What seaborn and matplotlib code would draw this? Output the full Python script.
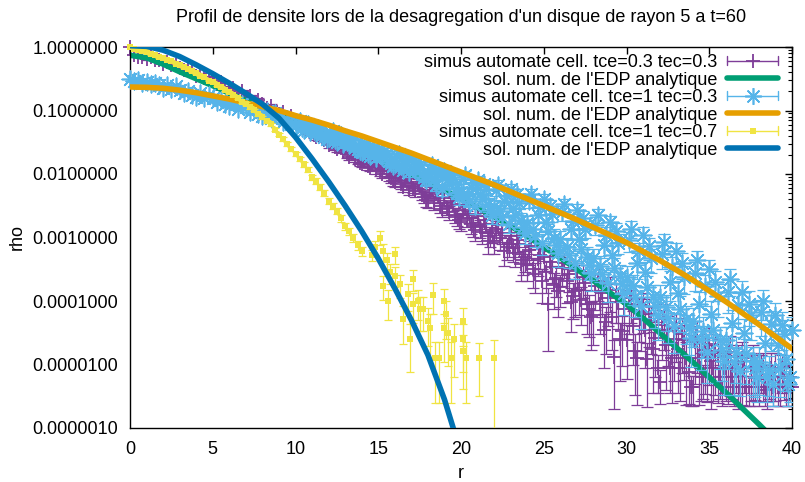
import numpy as np
import seaborn as sns
import matplotlib.pyplot as plt
from matplotlib.lines import Line2D
from matplotlib.legend_handler import HandlerBase
from matplotlib.ticker import FixedLocator, LogLocator, FuncFormatter, NullFormatter

# ---- data (log10 of rho) ----
r_sim = np.linspace(0, 40, 161)          # radial positions of the automaton samples
r_sim_b = np.linspace(10.125, 39.875, 120)  # in-between radii (outer region, denser sampling)

purple_log10 = [
    0.0, -0.12, -0.15, -0.16,  -0.19, -0.16, -0.21, -0.2,  -0.26, -0.24, -0.29, -0.28,
    -0.33, -0.36, -0.34, -0.39,  -0.45, -0.42, -0.49, -0.47,  -0.53, -0.58, -0.55, -0.63,
    -0.68, -0.65, -0.73, -0.7,  -0.8, -0.77, -0.86, -0.83,  -0.9, -0.96, -0.93, -1.0,
    -1.06, -1.03, -1.12, -1.09,  -1.22, -1.16, -1.27, -1.3,  -1.33, -1.42, -1.36, -1.46,
    -1.55, -1.47, -1.6, -1.52,  -1.6, -1.73, -1.66, -1.78,  -1.84, -1.74, -1.9, -1.8,
    -1.87, -2.0, -1.93, -2.07,  -2.13, -1.98, -2.2, -2.05,  -2.12, -2.27, -2.18, -2.36,
    -2.42, -2.25, -2.31, -2.5,  -2.38, -2.6, -2.47, -2.67,  -2.75, -2.52, -2.63, -2.82,
    -2.66, -2.92, -2.78, -2.97,  -3.07, -2.8, -2.93, -3.15,  -2.98, -3.25, -3.1, -3.36,
    -3.42, -3.14, -3.58, -3.27,  -3.3, -4.05, -3.46, -3.63,  -3.78, -3.4, -3.58, -3.92,
    -3.53, -3.98, -3.72, -4.12,  -4.22, -3.68, -3.87, -4.33,  -3.82, -4.88, -4.02, -4.47,
    -4.62, -3.95, -4.78, -4.18,  -4.08, -4.92, -4.32, -4.58,  -5.28, -4.28, -4.47, -4.9,
    -4.43, -5.05, -4.62, -5.12,  -5.35, -4.55, -5.05, -4.77,  -4.68, -5.05, -4.86, -5.35,
    -5.05, -4.8, -5.35, -4.95,  -4.9, -5.35, -5.05, -5.22,  -5.35, -5.05, -5.4, -5.05,
    -5.05, -5.35, -5.22, -5.35,  -5.35,
]
purple_relerr = [
    .02, .02, .02, .02,  .02, .02, .02, .02,  .03, .03, .03, .03,  .03, .03, .03, .03,
    .03, .03, .04, .04,  .04, .04, .04, .04,  .04, .04, .05, .05,  .05, .05, .05, .05,
    .05, .06, .06, .06,  .06, .06, .07, .07,  .07, .07, .08, .08,  .08, .09, .08, .09,
    .1, .09, .1, .1,  .1, .11, .11, .12,  .12, .11, .13, .12,  .13, .14, .13, .15,
    .16, .14, .17, .15,  .16, .19, .17, .2,  .22, .19, .2, .24,  .21, .26, .23, .28,
    .3, .24, .27, .32,  .27, .34, .3, .35,  .36, .3, .33, .38,  .34, .4, .37, .42,
    .46, .38, .5, .41,  .4, .82, .45, .5,  .52, .43, .48, .57,  .47, .6, .53, .64,
    .66, .52, .58, .69,  .56, .85, .62, .72,  .75, .6, .8, .66,  .63, .82, .69, .76,
    .55, .68, .72, .8,  .71, .7, .76, .68,  .5, .74, .7, .8,  .77, .7, .82, .5,
    .7, .8, .5, .82,  .82, .5, .7, .55,  .5, .7, .5, .7,  .7, .5, .55, .5,  .5,
]
purple_b_log10 = [
    -1.19, -1.25, -1.33, -1.24,  -1.39, -1.3, -1.44, -1.49,  -1.5, -1.58, -1.44, -1.63,
    -1.69, -1.63, -1.76, -1.82,  -1.77, -1.87, -1.82, -1.94,  -1.96, -1.9, -2.04, -2.11,
    -2.02, -2.16, -2.09, -2.25,  -2.22, -2.15, -2.31, -2.41,  -2.28, -2.46, -2.36, -2.55,
    -2.53, -2.43, -2.64, -2.72,  -2.57, -2.69, -2.79, -2.88,  -2.84, -2.72, -3.05, -2.9,
    -2.86, -3.0, -3.22, -3.1,  -3.17, -3.04, -3.42, -3.3,  -3.2, -3.5, -3.34, -3.68,
    -3.55, -3.38, -3.75, -3.85,  -3.48, -3.68, -4.02, -3.85,  -3.82, -3.62, -4.05, -4.25,
    -3.76, -4.05, -4.45, -3.95,  -4.25, -3.92, -4.6, -4.12,  -4.05, -4.4, -4.9, -4.28,
    -4.45, -4.2, -4.75, -5.05,  -4.38, -4.7, -5.05, -4.6,  -4.75, -4.52, -4.9, -5.35,
    -4.65, -4.9, -5.2, -4.85,  -4.95, -4.78, -5.2, -5.05,  -4.88, -5.2, -5.05, -5.35,
    -5.05, -5.35, -4.95, -5.05,  -5.05, -5.35, -5.2, -5.35,  -5.35, -5.05, -5.35, -5.2,
]
purple_b_relerr = [
    .07, .07, .08, .07,  .08, .07, .09, .09,  .09, .1, .08, .1,  .11, .1, .12, .12,
    .12, .13, .12, .14,  .14, .13, .15, .16,  .15, .17, .16, .18,  .18, .16, .2, .21,
    .19, .23, .21, .25,  .24, .22, .27, .29,  .26, .29, .31, .34,  .32, .29, .38, .34,
    .33, .37, .42, .39,  .4, .36, .46, .43,  .41, .5, .45, .55,  .52, .46, .58, .6,
    .48, .55, .66, .6,  .6, .53, .66, .7,  .58, .66, .75, .64,  .7, .62, .78, .67,
    .66, .75, .82, .69,  .75, .7, .8, .6,  .72, .8, .6, .78,  .8, .76, .82, .5,
    .78, .82, .55, .82,  .82, .8, .55, .6,  .82, .55, .6, .5,  .6, .5, .8, .6,
    .6, .5, .55, .5,  .5, .6, .5, .55,
]

lblue_log10 = [
    -0.5, -0.54, -0.52, -0.56,  -0.55, -0.59, -0.57, -0.6,  -0.64, -0.6, -0.66, -0.62,
    -0.67, -0.72, -0.69, -0.75,  -0.78, -0.72, -0.8, -0.75,  -0.8, -0.87, -0.83, -0.9,
    -0.93, -0.86, -0.97, -0.9,  -0.94, -1.02, -0.97, -1.05,  -1.08, -1.0, -1.12, -1.04,
    -1.1, -1.18, -1.13, -1.22,  -1.25, -1.16, -1.3, -1.21,  -1.26, -1.36, -1.3, -1.41,
    -1.44, -1.33, -1.5, -1.39,  -1.42, -1.55, -1.47, -1.6,  -1.65, -1.52, -1.71, -1.58,
    -1.6, -1.74, -1.67, -1.83,  -1.84, -1.69, -1.93, -1.75,  -1.78, -1.94, -1.85, -2.05,
    -2.03, -1.86, -2.18, -1.96,  -1.95, -2.15, -2.05, -2.3,  -2.28, -2.02, -2.42, -2.14,
    -2.1, -2.4, -2.24, -2.56,  -2.5, -2.17, -2.68, -2.34,  -2.23, -2.64, -2.45, -2.83,
    -2.77, -2.32, -2.98, -2.52,  -2.4, -2.9, -2.63, -3.12,  -3.02, -2.48, -3.28, -2.74,
    -2.56, -3.18, -2.86, -3.43,  -3.33, -2.65, -3.58, -2.96,  -2.76, -3.48, -3.08, -3.73,
    -3.62, -2.86, -3.93, -3.22,  -2.96, -3.78, -3.33, -4.08,  -3.93, -3.07, -4.27, -3.46,
    -3.22, -4.12, -3.62, -4.43,  -4.32, -3.36, -4.62, -3.77,  -3.5, -4.46, -3.92, -4.77,
    -4.62, -3.66, -4.96, -4.06,  -3.86, -4.82, -4.22, -5.06,  -4.96, -4.0, -5.2, -4.36,
    -4.22, -5.06, -4.52, -5.3,  -4.45,
]
lblue_relerr = [
    .02, .02, .02, .02,  .02, .02, .02, .02,  .02, .02, .03, .03,  .03, .03, .03, .03,
    .03, .03, .03, .03,  .03, .04, .04, .04,  .04, .04, .04, .04,  .04, .05, .05, .05,
    .05, .05, .05, .05,  .05, .06, .06, .06,  .07, .06, .07, .07,  .07, .08, .07, .08,
    .08, .07, .09, .08,  .08, .09, .09, .1,  .1, .09, .11, .1,  .1, .11, .1, .12,
    .12, .11, .13, .11,  .12, .14, .13, .15,  .15, .13, .17, .14,  .14, .17, .15, .19,
    .19, .15, .21, .17,  .16, .21, .18, .23,  .23, .17, .26, .2,  .18, .25, .22, .29,
    .28, .2, .32, .23,  .21, .3, .25, .35,  .33, .22, .38, .27,  .24, .36, .3, .42,
    .4, .25, .45, .32,  .27, .43, .35, .48,  .46, .3, .52, .38,  .32, .5, .4, .55,
    .53, .34, .6, .43,  .37, .57, .47, .62,  .6, .4, .66, .5,  .42, .63, .53, .68,
    .65, .45, .7, .56,  .48, .68, .6, .65,  .7, .5, .6, .62,  .54, .65, .65, .55,  .6,
]
lblue_b_log10 = [
    -1.19, -1.27, -1.23, -1.34,  -1.33, -1.28, -1.39, -1.45,  -1.36, -1.47, -1.42, -1.53,
    -1.5, -1.45, -1.57, -1.64,  -1.55, -1.68, -1.62, -1.75,  -1.7, -1.63, -1.79, -1.87,
    -1.72, -1.88, -1.8, -1.97,  -1.9, -1.81, -2.0, -2.1,  -1.92, -2.1, -2.0, -2.24,
    -2.1, -2.0, -2.23, -2.37,  -2.08, -2.35, -2.2, -2.5,  -2.32, -2.16, -2.48, -2.64,
    -2.25, -2.59, -2.42, -2.78,  -2.54, -2.32, -2.73, -2.93,  -2.42, -2.87, -2.64, -3.08,
    -2.76, -2.5, -3.0, -3.24,  -2.6, -3.15, -2.87, -3.4,  -3.02, -2.7, -3.3, -3.56,
    -2.8, -3.45, -3.12, -3.72,  -3.28, -2.9, -3.6, -3.88,  -3.04, -3.76, -3.4, -4.08,
    -3.55, -3.14, -3.93, -4.22,  -3.26, -4.1, -3.7, -4.4,  -3.87, -3.4, -4.28, -4.58,
    -3.56, -4.05, -4.47, -4.8,  -4.2, -3.7, -4.62, -4.95,  -3.86, -4.35, -4.8, -5.1,
    -4.5, -4.04, -4.95, -5.2,  -4.18, -4.66, -5.08, -5.3,  -4.7, -4.38, -4.92, -5.2,
]
lblue_b_relerr = [
    .06, .07, .07, .08,  .08, .07, .09, .1,  .08, .1, .09, .11,  .1, .09, .11, .12,
    .1, .12, .11, .13,  .12, .11, .14, .15,  .12, .15, .14, .17,  .15, .14, .17, .19,
    .15, .18, .17, .21,  .18, .17, .21, .23,  .17, .22, .19, .26,  .21, .18, .25, .28,
    .19, .26, .22, .3,  .26, .21, .3, .33,  .23, .31, .27, .36,  .3, .25, .35, .4,
    .27, .38, .32, .44,  .35, .29, .42, .48,  .31, .44, .37, .5,  .42, .33, .48, .54,
    .36, .5, .44, .57,  .47, .38, .54, .6,  .41, .57, .5, .62,  .53, .44, .6, .65,
    .48, .56, .63, .68,  .58, .5, .65, .7,  .53, .6, .68, .6,  .63, .56, .7, .6,
    .58, .66, .62, .55,  .66, .6, .68, .6,
]

r_yellow_dense = np.linspace(0, 14, 57)
yellow_dense_log10 = [
    0.0, -0.03, -0.05, -0.07,  -0.08, -0.11, -0.12, -0.16,  -0.17, -0.2, -0.22, -0.26,
    -0.28, -0.32, -0.34, -0.38,  -0.41, -0.45, -0.48, -0.53,  -0.55, -0.6, -0.63, -0.68,
    -0.71, -0.76, -0.8, -0.86,  -0.89, -0.95, -0.99, -1.06,  -1.11, -1.17, -1.22, -1.3,
    -1.38, -1.45, -1.53, -1.6,  -1.69, -1.76, -1.85, -1.93,  -2.05, -2.11, -2.2, -2.3,
    -2.42, -2.5, -2.58, -2.7,  -2.82, -2.9, -3.0, -3.12,  -3.22,
]
yellow_dense_relerr = [
    .02, .02, .02, .02,  .02, .02, .02, .02,  .02, .02, .02, .02,  .03, .03, .03, .03,
    .03, .03, .03, .03,  .03, .03, .04, .04,  .04, .04, .04, .04,  .04, .05, .05, .05,
    .05, .05, .06, .06,  .06, .06, .07, .07,  .07, .08, .08, .09,  .09, .1, .1, .1,
    .11, .11, .12, .12,  .13, .13, .14, .15,  .16,
]
r_yellow_tail = [14.6, 14.8, 15.1, 15.3, 15.5, 15.7, 16.0, 16.0, 15.3, 15.6, 16.3, 16.5,
                 16.8, 17.1, 17.1, 17.4, 17.5, 17.7, 16.9, 18.0, 18.1, 18.3, 18.4, 18.7,
                 19.0, 19.1, 19.0, 19.2, 19.4, 19.6, 20.1, 20.1, 20.1, 20.3, 21.1, 22.0]
yellow_tail_log10 = [-3.28, -3.15, -3.0, -3.21, -3.36, -3.55, -3.26, -3.6, -3.76, -4.0,
                     -3.73, -4.28, -3.89, -3.65, -4.05, -4.0, -4.12, -4.12, -4.6, -4.31,
                     -4.42, -3.9, -4.9, -4.9, -4.0, -4.2, -4.43, -4.5, -4.9, -4.6,
                     -4.31, -4.6, -4.78, -4.9, -4.9, -4.9]
yellow_tail_relerr = [.2, .25, .25, .3, .3, .35, .3, .35, .4, .5, .4, .6, .45, .35, .5, .5,
                      .55, .55, .7, .6, .65, .5, .8, .8, .55, .6, .7, .7, .8, .75, .6, .7,
                      .75, .8, .75, .95]

# analytic (EDP) curves sampled at integer r
r_curve = np.arange(0, 41)
green_log10 = [-0.13, -0.17, -0.27, -0.39, -0.5, -0.61, -0.73, -0.84, -0.95, -1.07,
               -1.18, -1.3, -1.41, -1.53, -1.65, -1.77, -1.88, -2.0, -2.13, -2.26,
               -2.39, -2.53, -2.67, -2.82, -2.98, -3.15, -3.32, -3.5, -3.68, -3.87,
               -4.05, -4.27, -4.5, -4.73, -4.96, -5.2, -5.44, -5.69, -5.94, -6.2, -6.45]
orange_log10 = [-0.63, -0.635, -0.65, -0.68, -0.72, -0.77, -0.82, -0.88, -0.94, -1.0,
                -1.08, -1.15, -1.23, -1.32, -1.4, -1.49, -1.58, -1.67, -1.77, -1.87,
                -1.97, -2.07, -2.17, -2.28, -2.39, -2.5, -2.61, -2.72, -2.84, -2.96,
                -3.08, -3.22, -3.36, -3.51, -3.67, -3.84, -4.01, -4.19, -4.37, -4.56, -4.75]
r_blue = np.arange(0, 21)
blue_log10 = [0.02, 0.01, -0.05, -0.15, -0.28, -0.42, -0.57, -0.73, -0.9, -1.12,
              -1.42, -1.76, -2.12, -2.5, -2.9, -3.33, -3.8, -4.3, -4.85, -5.55, -6.4]

labels = ["simus automate cell. tce=0.3 tec=0.3", "sol. num. de l'EDP analytique",
          "simus automate cell. tce=1 tec=0.3", "sol. num. de l'EDP analytique",
          "simus automate cell. tce=1 tec=0.7", "sol. num. de l'EDP analytique"]

c_purple, c_green, c_lblue = "#7e3d98", "#009e73", "#56b4e9"
c_orange, c_yellow, c_blue = "#e69f00", "#f0e442", "#0072b2"


def rho(vals):
    return 10.0 ** np.asarray(vals)


class GnuErrorKey(HandlerBase):
    # gnuplot-like key entry: horizontal bar with end caps and the point in the middle
    def __init__(self, marker, ms, mew):
        super().__init__()
        self.marker, self.ms, self.mew = marker, ms, mew

    def create_artists(self, legend, orig_handle, xdescent, ydescent, width, height,
                       fontsize, trans):
        col = orig_handle.get_color()
        y = height / 2 - ydescent
        x0, x1 = -xdescent, width - xdescent
        cap = 3.3
        arts = [Line2D([x0, x1], [y, y], color=col, lw=1.0),
                Line2D([x0, x0], [y - cap, y + cap], color=col, lw=1.0),
                Line2D([x1, x1], [y - cap, y + cap], color=col, lw=1.0),
                Line2D([(x0 + x1) / 2], [y], ls="none", marker=self.marker,
                       ms=self.ms, mew=self.mew, color=col)]
        for a in arts:
            a.set_transform(trans)
        return arts


sns.set_theme(style="white", rc={"axes.edgecolor": "black", "text.color": "black",
                                 "axes.labelcolor": "black", "xtick.color": "black",
                                 "ytick.color": "black"})
plt.rcParams['font.family'] = ['Liberation Sans', 'DejaVu Sans']

fig = plt.figure(figsize=(8.05, 4.82), dpi=100)
ax = fig.add_axes([130 / 805, 1 - 428 / 482, 662 / 805, 381 / 482])
ax.set_yscale('log')


def sim_series(r, logv, rel, color, marker, s, lw, z, cap):
    y = rho(logv)
    ax.errorbar(r, y, yerr=y * np.asarray(rel), fmt='none', ecolor=color,
                elinewidth=0.9, capsize=cap, capthick=0.9, zorder=z)
    kw = dict(edgecolor=color, linewidth=0) if marker == 's' else dict(linewidth=lw)
    sns.scatterplot(x=r, y=y, marker=marker, s=s, color=color, ax=ax, zorder=z + 0.1,
                    clip_on=False, legend=False, **kw)


def curve(r, logv, color, z):
    sns.lineplot(x=r, y=rho(logv), color=color, lw=4, ax=ax, zorder=z, sort=False,
                 estimator=None, legend=False)


sim_series(r_sim, purple_log10, purple_relerr, c_purple, '+', 100, 1.3, 1.0, 4)
sim_series(r_sim_b, purple_b_log10, purple_b_relerr, c_purple, '+', 100, 1.3, 1.0, 4)
curve(r_curve, green_log10, c_green, 2.0)
sim_series(r_sim, lblue_log10, lblue_relerr, c_lblue, (8, 2, 0), 140, 1.2, 3.0, 4)
sim_series(r_sim_b, lblue_b_log10, lblue_b_relerr, c_lblue, (8, 2, 0), 140, 1.2, 3.0, 4)
curve(r_curve, orange_log10, c_orange, 4.0)
sim_series(r_yellow_dense, yellow_dense_log10, yellow_dense_relerr, c_yellow, 's', 16, 0, 5.0, 3)
sim_series(r_yellow_tail, yellow_tail_log10, yellow_tail_relerr, c_yellow, 's', 16, 0, 5.0, 3)
curve(r_blue, blue_log10, c_blue, 6.0)

ax.set_xlim(0, 40)
ax.set_ylim(1e-6, 1)
ax.set_xticks(range(0, 41, 5))
ax.yaxis.set_major_locator(FixedLocator(10.0 ** np.arange(-6, 1)))
ax.yaxis.set_major_formatter(FuncFormatter(lambda v, p: f"{v:.7f}"))
ax.yaxis.set_minor_locator(LogLocator(base=10, subs=np.arange(2, 10)))
ax.yaxis.set_minor_formatter(NullFormatter())
ax.tick_params(which='both', direction='in', top=True, right=True, labelsize=13)
ax.tick_params(which='major', length=5, width=1.0)
ax.tick_params(which='minor', length=3, width=0.8)
ax.tick_params(axis='x', which='major', pad=9.6)
ax.tick_params(axis='y', which='major', pad=8.6)
for sp in ax.spines.values():
    sp.set_linewidth(1.0)
    sp.set_color('black')
ax.set_xlabel('')
ax.set_ylabel('')

fig.text(461 / 805, 1 - 18 / 482,
         "Profil de densite lors de la desagregation d'un disque de rayon 5 a t=60",
         ha='center', va='center', fontsize=13)
fig.text(17 / 805, 1 - 237 / 482, 'rho', rotation=90, ha='center', va='center', fontsize=13)
fig.text(461 / 805, 1 - 474 / 482, 'r', ha='center', va='center', fontsize=13)

# legend
h_purple = Line2D([], [], color=c_purple)
h_lblue = Line2D([], [], color=c_lblue)
h_yellow = Line2D([], [], color=c_yellow)
handles = [h_purple, Line2D([], [], color=c_green, lw=4),
           h_lblue, Line2D([], [], color=c_orange, lw=4),
           h_yellow, Line2D([], [], color=c_blue, lw=4)]
hmap = {h_purple: GnuErrorKey('+', 10, 1.3),
        h_lblue: GnuErrorKey((8, 2, 0), 12, 1.2),
        h_yellow: GnuErrorKey('s', 4, 0)}
ax.legend(handles, labels, handler_map=hmap, loc='upper right',
          bbox_to_anchor=(778 / 805, 1 - 54 / 482), bbox_transform=fig.transFigure,
          frameon=False, markerfirst=False, handlelength=2.82, handletextpad=0.55,
          labelspacing=0.03, borderpad=0, borderaxespad=0, fontsize=13)

fig.savefig('out.png', dpi=100)
plt.close(fig)
